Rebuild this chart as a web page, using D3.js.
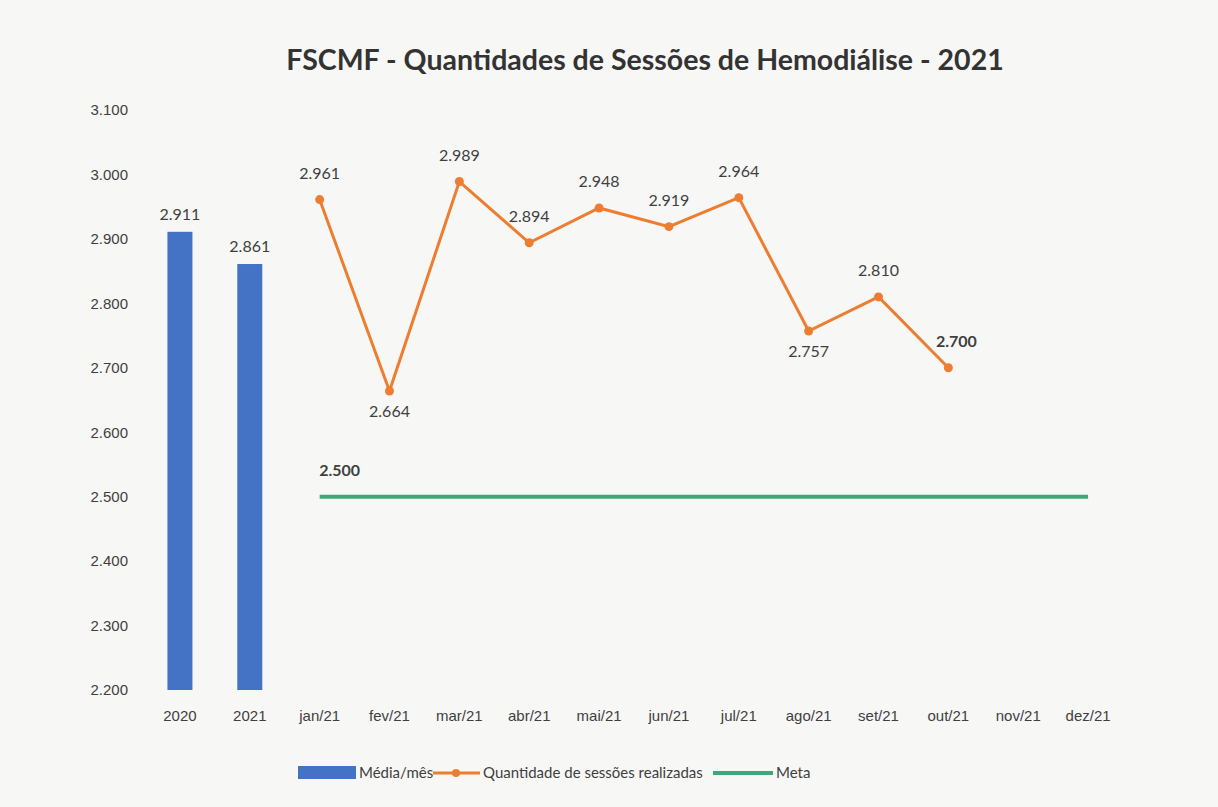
<!DOCTYPE html>
<html lang="pt">
<head>
  <meta charset="UTF-8">
  <title>FSCMF - Sessões de Hemodiálise</title>
  <script src="https://d3js.org/d3.v7.min.js"></script>
  <style>
    body { margin: 0; background: #f7f7f6; font-family: Lato, "Open Sans", sans-serif; }
    svg { display: block; }
    .tick text { fill: #3f3f3f; font-size: 15px; }
    .lbl { fill: #3f3f3f; font-size: 16px; }
  </style>
</head>
<body>
  <svg width="1218" height="807"></svg>
  <script>
    const categories = ['2020', '2021', 'jan/21', 'fev/21', 'mar/21', 'abr/21', 'mai/21', 'jun/21',
                        'jul/21', 'ago/21', 'set/21', 'out/21', 'nov/21', 'dez/21'];
    const barCats = ['2020', '2021'];
    const barValues = [2911, 2861];
    const months = ['jan/21', 'fev/21', 'mar/21', 'abr/21', 'mai/21', 'jun/21', 'jul/21', 'ago/21', 'set/21', 'out/21'];
    const sessions = [2961, 2664, 2989, 2894, 2948, 2919, 2964, 2757, 2810, 2700];
    const labelBelow = ['fev/21', 'ago/21'];
    const metaMonths = ['jan/21', 'fev/21', 'mar/21', 'abr/21', 'mai/21', 'jun/21', 'jul/21', 'ago/21',
                        'set/21', 'out/21', 'nov/21', 'dez/21'];
    const metaValues = metaMonths.map(() => 2500);
    const yTicks = [2200, 2300, 2400, 2500, 2600, 2700, 2800, 2900, 3000, 3100];

    const blue = '#4472c4', orange = '#ed7d31', green = '#40a878';
    const fmt = v => d3.format(',')(v).replace(',', '.');

    const svg = d3.select('svg');
    const x = d3.scaleBand().domain(categories).range([145, 1123]);
    const y = d3.scaleLinear().domain([2200, 3100]).range([690, 110]);
    const cx = d => x(d) + x.bandwidth() / 2;

    svg.append('text')
      .attr('x', 645).attr('y', 70)
      .attr('text-anchor', 'middle')
      .attr('font-size', 28.5).attr('font-weight', 'bold').attr('fill', '#333')
      .text('FSCMF - Quantidades de Sessões de Hemodiálise - 2021');

    // eixos sem linhas
    const yAxis = svg.append('g').attr('transform', 'translate(145,0)')
      .call(d3.axisLeft(y).tickValues(yTicks).tickFormat(fmt).tickSize(0).tickPadding(17));
    yAxis.select('.domain').remove();

    const xAxis = svg.append('g').attr('transform', 'translate(0,706)')
      .call(d3.axisBottom(x).tickSize(0).tickPadding(4));
    xAxis.select('.domain').remove();

    // barras
    svg.selectAll('.bar').data(barCats).enter().append('rect')
      .attr('x', d => cx(d) - 12.5)
      .attr('width', 25)
      .attr('y', (d, i) => y(barValues[i]))
      .attr('height', (d, i) => y(2200) - y(barValues[i]))
      .attr('fill', blue);

    svg.selectAll('.barlbl').data(barCats).enter().append('text')
      .attr('class', 'lbl').attr('text-anchor', 'middle')
      .attr('x', cx).attr('y', (d, i) => y(barValues[i]) - 12)
      .text((d, i) => fmt(barValues[i]));

    // meta
    svg.append('path')
      .datum(metaMonths)
      .attr('fill', 'none').attr('stroke', green).attr('stroke-width', 4)
      .attr('d', d3.line().x(d => cx(d)).y((d, i) => y(metaValues[i])));

    svg.append('text')
      .attr('class', 'lbl').attr('font-weight', 'bold').attr('text-anchor', 'middle')
      .attr('x', cx('jan/21') + 20).attr('y', y(metaValues[0]) - 21)
      .text(fmt(metaValues[0]));

    // sessões realizadas
    svg.append('path')
      .datum(months)
      .attr('fill', 'none').attr('stroke', orange).attr('stroke-width', 3)
      .attr('d', d3.line().x(d => cx(d)).y((d, i) => y(sessions[i])));

    svg.selectAll('.pt').data(months).enter().append('circle')
      .attr('cx', cx).attr('cy', (d, i) => y(sessions[i]))
      .attr('r', 4.5).attr('fill', orange);

    svg.selectAll('.ptlbl').data(months).enter().append('text')
      .attr('class', 'lbl').attr('text-anchor', 'middle')
      .attr('font-weight', d => d === 'out/21' ? 'bold' : null)
      .attr('x', d => cx(d) + (d === 'out/21' ? 8 : 0))
      .attr('y', (d, i) => labelBelow.includes(d) ? y(sessions[i]) + 26 : y(sessions[i]) - 21)
      .text((d, i) => fmt(sessions[i]));

    // legenda
    const lg = svg.append('g').attr('font-size', 15).attr('fill', '#3f3f3f');
    lg.append('rect').attr('x', 298).attr('y', 766).attr('width', 58).attr('height', 13).attr('fill', blue);
    lg.append('text').attr('x', 359).attr('y', 778).text('Média/mês');
    lg.append('line').attr('x1', 433).attr('x2', 480).attr('y1', 773).attr('y2', 773)
      .attr('stroke', orange).attr('stroke-width', 3);
    lg.append('circle').attr('cx', 456).attr('cy', 773).attr('r', 4).attr('fill', orange);
    lg.append('text').attr('x', 483).attr('y', 778).text('Quantidade de sessões realizadas');
    lg.append('line').attr('x1', 713).attr('x2', 773).attr('y1', 773).attr('y2', 773)
      .attr('stroke', green).attr('stroke-width', 4);
    lg.append('text').attr('x', 776).attr('y', 778).text('Meta');
  </script>
</body>
</html>
